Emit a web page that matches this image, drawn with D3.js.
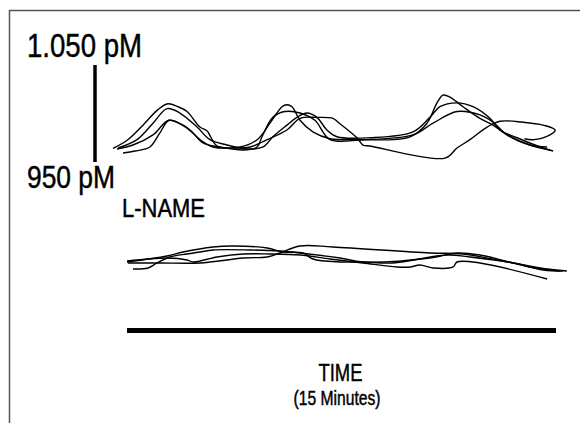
<!DOCTYPE html>
<html>
<head>
<meta charset="utf-8">
<script src="https://cdn.jsdelivr.net/npm/d3@7"></script>
<style>
  body { margin: 0; background: #fff; }
  text { font-family: "Liberation Sans Narrow", "Liberation Sans", Arial, sans-serif; fill: #000; stroke: #000; stroke-width: 0.45; }
  .trace { fill: none; stroke: #000; stroke-width: 1.4; stroke-linejoin: round; }
</style>
</head>
<body>
<div id="plot"></div>
<script>
var width = 580, height = 423;

// traces: [time in minutes, concentration in pM]
var basal1 = [[-0.49,964],[0.03,973],[0.56,988],[1.08,1004],[1.43,1010],[1.78,1007],[2.10,1002],[2.55,986],[2.80,982],[3.15,966.5],[3.95,965.5],[4.55,973],[5.00,990],[5.42,1007],[5.59,1009],[5.77,1007],[6.05,993],[6.50,981],[7.10,974],[8.04,973],[9.90,976],[10.49,990],[10.84,1011],[11.05,1019],[11.29,1017],[11.75,1007],[12.34,995],[12.80,988],[13.29,978],[14.09,967.5],[14.79,962.4]]
var basal2 = [[-0.31,964.4],[0.35,973],[0.91,990],[1.40,1005],[1.85,1000.5],[2.45,986],[2.90,973],[3.50,967.5],[4.20,963.4],[4.76,965.5],[5.10,976],[5.59,988],[5.94,996],[6.29,1000.5],[6.64,996],[6.99,983],[7.34,976],[8.50,975],[10.00,981],[10.59,996],[10.94,1007],[11.54,1011],[12.10,1007],[12.69,995],[13.04,983],[13.64,975],[14.55,964.4],[14.90,961.3]]
var basal3 = [[-0.35,963.4],[0.21,967.5],[0.91,978],[1.47,993],[2.10,985],[2.55,973],[3.01,965.5],[3.71,964.4],[4.30,965.5],[4.90,973],[5.59,983],[6.05,995],[6.64,996],[7.20,995],[7.38,991],[8.04,975],[8.25,967.5],[8.50,966.5],[11.12,954],[11.54,964.4],[11.99,973],[12.59,986],[13.04,992],[13.85,991],[14.55,988],[14.97,983],[14.79,978],[14.20,973],[13.90,974]]
var basal4 = [[-0.14,959.3],[0.28,961.3],[0.80,965.5],[1.15,980],[1.47,993],[1.96,988],[2.31,980],[2.66,969.6],[3.25,965.5],[4.06,962.4],[4.55,965.5],[4.72,976],[5.10,996],[5.52,1002],[6.05,1000.5],[6.57,993],[7.10,973],[8.25,973],[10.00,978],[10.70,990],[11.54,1002],[12.34,998.5],[12.80,991],[13.29,978],[14.09,967.5],[14.69,965.5]]

var lname1 = [[0,960.3],[1.40,966.5],[1.96,970.6],[3.01,975.8],[3.71,976.8],[4.90,974.7],[5.45,970.6],[6.15,969.6],[6.50,963.4],[7.45,960.3],[8.25,960.3],[9.30,959.3],[11.19,967.5],[11.99,965.5],[13.50,959.3],[14.55,952.1],[15.24,951]]
var lname2 = [[0.03,959.3],[1.15,959.3],[2.55,959.3],[4.06,964.4],[4.90,965.5],[5.35,969.6],[6.05,976.8],[7.20,975.8],[10.59,969.6],[11.75,968.6],[12.94,962.4],[14.69,953.1],[15.38,951]]
var lname3 = [[0.21,953.1],[0.73,954.1],[1.05,959.3],[1.50,965.5],[2.10,968.6],[2.55,970.6],[3.01,972.7],[4.30,972.7],[5.35,971.6],[6.05,969.6],[7.45,964.4],[8.25,960.3],[10.59,964.4],[11.54,969.6],[12.34,967.5],[14.09,955.2],[15.14,951]]
var lname4 = [[0,961.3],[1.40,964.4],[2.10,962.4],[2.31,960.3],[3.15,965.5],[4.06,968.6],[5.00,968.6],[6.05,967.5],[7.10,963.4],[8.25,959.3],[9.44,955.2],[9.90,955.2],[10.24,957.2],[10.70,954.1],[11.40,955.2],[11.54,960.3],[12.34,959.3],[14.69,942.8]]

var scaleBarTop = 1050, scaleBarBottom = 950
var scaleTopLabel = "1.050 pM", scaleBottomLabel = "950 pM"
var timeSpan = [0, 15]

var xScale = d3.scaleLinear().domain(timeSpan).range([127, 556])
var yBasal = d3.scaleLinear().domain([scaleBarBottom, scaleBarTop]).range([162, 65])
var yLname = d3.scaleLinear().domain([scaleBarBottom, scaleBarTop]).range([272, 175])

var svg = d3.select("#plot")
  .append("svg")
    .attr("width", width)
    .attr("height", height)

svg.append("rect").attr("width", width).attr("height", height).attr("fill", "#fff")

// frame (top and left only)
svg.append("path")
  .attr("d", "M9.5,423 V10.5 H580")
  .attr("fill", "none")
  .attr("stroke", "#555")
  .attr("stroke-width", 1.5)

// vertical scale bar
svg.append("line")
  .attr("x1", 95).attr("x2", 95)
  .attr("y1", yBasal(scaleBarTop)).attr("y2", yBasal(scaleBarBottom))
  .attr("stroke", "#000").attr("stroke-width", 3.5)

// condensed labels: no narrow font installed, so squeeze to the measured widths
function label(x, y, size, w, str, anchor) {
  return svg.append("text")
    .attr("x", x).attr("y", y)
    .attr("font-size", size)
    .attr("text-anchor", anchor || "start")
    .attr("textLength", w)
    .attr("lengthAdjust", "spacingAndGlyphs")
    .text(str)
}

label(27, 57, 32.5, 115, scaleTopLabel)
label(27, 188, 30.5, 88, scaleBottomLabel)
label(122, 217, 25.5, 83, "L-NAME")

var lineB = d3.line()
  .x(d => xScale(d[0]))
  .y(d => yBasal(d[1]))
  .curve(d3.curveCatmullRom.alpha(0.5))

var lineL = d3.line()
  .x(d => xScale(d[0]))
  .y(d => yLname(d[1]))
  .curve(d3.curveCatmullRom.alpha(0.5))

svg.selectAll(".basal")
  .data([basal1, basal2, basal3, basal4])
  .enter()
  .append("path")
  .attr("class", "trace basal")
  .attr("d", lineB)

svg.selectAll(".lname")
  .data([lname1, lname2, lname3, lname4])
  .enter()
  .append("path")
  .attr("class", "trace lname")
  .attr("d", lineL)

// time bar
svg.append("line")
  .attr("x1", xScale(timeSpan[0])).attr("x2", xScale(timeSpan[1]))
  .attr("y1", 330.5).attr("y2", 330.5)
  .attr("stroke", "#000").attr("stroke-width", 5)

label(340.5, 381, 23, 44, "TIME", "middle")
label(337, 404.5, 19.5, 87, "(15 Minutes)", "middle")
</script>
</body>
</html>
